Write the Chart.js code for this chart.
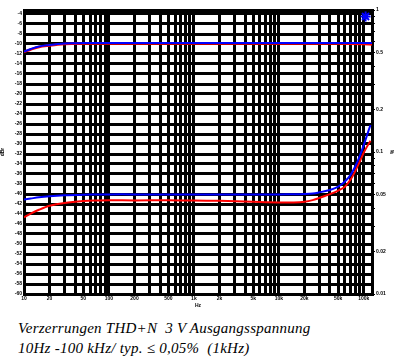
<!DOCTYPE html>
<html>
<head>
<meta charset="utf-8">
<script src="https://cdn.jsdelivr.net/npm/chart.js@4.4.1/dist/chart.umd.min.js"></script>
<style>
html,body{margin:0;padding:0;background:#fff;width:394px;height:360px;overflow:hidden;}
#wrap{position:absolute;left:0;top:0;width:394px;height:309px;}
#cap{position:absolute;left:18px;top:318px;font-family:"Liberation Serif","DejaVu Serif",serif;font-style:italic;font-size:15px;letter-spacing:0.25px;line-height:20px;color:#000;white-space:pre;}
</style>
</head>
<body>
<div id="wrap"><canvas id="c"></canvas></div>
<div id="cap">Verzerrungen THD+N  3 V Ausgangsspannung
10Hz -100 kHz/ typ. ≤ 0,05%  (1kHz)</div>
<script>
// ---- data ----
const levelFreq = [10, 12, 15, 20, 25, 30, 40, 50, 100, 1000, 10000, 50000, 100000, 125000];
const levelRed  = [-11.6, -11.1, -10.6, -10.3, -10.1, -10.0, -9.95, -9.9, -9.9, -9.9, -9.9, -9.9, -10.0, -10.1];
const levelBlue = [-11.5, -11.0, -10.5, -10.2, -10.0, -9.9, -9.85, -9.8, -9.8, -9.8, -9.8, -9.8, -9.8, -9.8];

const thdFreq = [10, 12, 15, 20, 30, 50, 70, 100, 200, 500, 1000, 2000, 5000, 10000, 15000, 20000, 25000, 30000, 40000, 50000, 60000, 70000, 80000, 90000, 100000, 110000, 120000];
const thdRed  = [0.0347, 0.0368, 0.0392, 0.0418, 0.0438, 0.0452, 0.0456, 0.0458, 0.0456, 0.0457, 0.0455, 0.0453, 0.0446, 0.0441, 0.0441, 0.0446, 0.0458, 0.0475, 0.0505, 0.0535, 0.057, 0.064, 0.074, 0.086, 0.099, 0.11, 0.12];
const thdBlue = [0.0462, 0.0470, 0.0480, 0.0488, 0.0495, 0.0500, 0.0502, 0.0503, 0.0503, 0.0503, 0.0503, 0.0503, 0.0503, 0.0503, 0.0504, 0.0506, 0.051, 0.052, 0.054, 0.057, 0.062, 0.069, 0.080, 0.094, 0.112, 0.133, 0.155];

const markerFreq = [105000];
const markerPct  = [0.9];

// ---- ticks ----
const xGrid = [10,20,30,40,50,60,70,80,90,100,200,300,400,500,600,700,800,900,1000,2000,3000,4000,5000,6000,7000,8000,9000,10000,20000,30000,40000,50000,60000,70000,80000,90000,100000,125000];
const xLabels = {10:'10',20:'20',50:'50',100:'100',200:'200',500:'500',1000:'1k',2000:'2k',5000:'5k',10000:'10k',20000:'20k',50000:'50k',100000:'100k'};
const leftTicks = [-60,-58,-56,-54,-52,-50,-48,-46,-44,-42,-40,-38,-36,-34,-32,-30,-28,-26,-24,-22,-20,-18,-16,-14,-12,-10,-8,-6,-4];
const leftTop = -3.2;
const rightTicks = [0.01,0.02,0.03,0.04,0.05,0.06,0.07,0.08,0.09,0.1,0.2,0.3,0.4,0.5,0.6,0.7,0.8,0.9,1];
const rightLabels = {0.01:'0.01',0.02:'0.02',0.05:'0.05',0.1:'0.1',0.2:'0.2',0.5:'0.5',1:'1'};

const pts = (xs, ys) => xs.map((x, i) => ({x: x, y: ys[i]}));
const tickFont = {family: 'Liberation Sans, Arial, sans-serif', size: 5, weight: 'bold'};

new Chart(document.getElementById('c'), {
  type: 'line',
  data: {
    datasets: [
      {label: 'marker', type: 'scatter', data: pts(markerFreq, markerPct), yAxisID: 'yR',
       pointStyle: 'star', pointRadius: 5, borderColor: '#0000ff', backgroundColor: '#0000ff', borderWidth: 2, order: 0},
      {label: 'THD blue', data: pts(thdFreq, thdBlue), yAxisID: 'yR', borderColor: '#0000ff', borderWidth: 2, pointRadius: 0, tension: 0.3, order: 1},
      {label: 'THD red', data: pts(thdFreq, thdRed), yAxisID: 'yR', borderColor: '#ff0000', borderWidth: 2, pointRadius: 0, tension: 0.3, order: 2},
      {label: 'Level blue', data: pts(levelFreq, levelBlue), yAxisID: 'yL', borderColor: '#0000ff', borderWidth: 2, pointRadius: 0, tension: 0.3, order: 3},
      {label: 'Level red', data: pts(levelFreq, levelRed), yAxisID: 'yL', borderColor: '#ff0000', borderWidth: 2.5, pointRadius: 0, tension: 0.3, order: 4}
    ]
  },
  options: {
    responsive: true,
    maintainAspectRatio: false,
    animation: false,
    layout: {padding: {top: 10, left: 0, right: 0, bottom: 0}},
    plugins: {legend: {display: false}, tooltip: {enabled: false}},
    scales: {
      x: {
        type: 'logarithmic', min: 10, max: 125000,
        afterBuildTicks: s => { s.ticks = xGrid.map(v => ({value: v})); },
        afterFit: s => { s.height = 15; },
        grid: {color: '#000', lineWidth: 3, drawTicks: false},
        border: {color: '#000', width: 3},
        ticks: {autoSkip: false, maxRotation: 0, minRotation: 0, padding: 2, color: '#000', font: tickFont,
          callback: (v) => xLabels[v] !== undefined ? xLabels[v] : ''},
        title: {display: true, text: 'Hz', color: '#000', font: tickFont, padding: 0}
      },
      yL: {
        type: 'linear', position: 'left', min: -60, max: leftTop,
        afterBuildTicks: s => { s.ticks = leftTicks.concat([leftTop]).map(v => ({value: v})); },
        afterFit: s => { s.width = 24; },
        grid: {color: '#000', lineWidth: 3, drawTicks: false},
        border: {color: '#000', width: 3},
        ticks: {autoSkip: false, padding: 2, color: '#000', font: tickFont,
          callback: (v) => leftTicks.indexOf(v) >= 0 ? String(v) : ''},
        title: {display: true, text: 'dBr', color: '#000', font: tickFont, padding: 0}
      },
      yR: {
        type: 'logarithmic', position: 'right', min: 0.01, max: 1,
        afterBuildTicks: s => { s.ticks = rightTicks.map(v => ({value: v})); },
        afterFit: s => { s.width = 22; },
        grid: {drawOnChartArea: false, color: '#000', lineWidth: 1, drawTicks: true, tickLength: 3},
        border: {color: '#000', width: 3},
        ticks: {autoSkip: false, padding: 1, color: '#000', font: tickFont,
          callback: (v) => rightLabels[v] !== undefined ? rightLabels[v] : ''},
        title: {display: true, text: '%', color: '#000', font: tickFont, padding: 0}
      }
    }
  }
});
</script>
</body>
</html>
